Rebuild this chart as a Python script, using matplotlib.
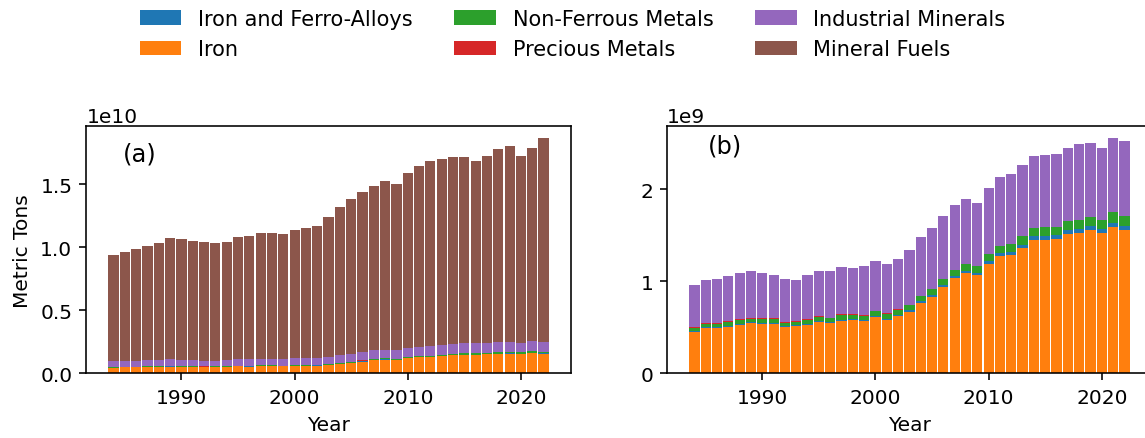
import numpy as np
import matplotlib
matplotlib.use('Agg')
import matplotlib.pyplot as plt

# 연도
years = np.arange(1984, 2023)

# 단위: 1e9 metric tons
iron = [0.454, 0.497, 0.497, 0.508, 0.530, 0.551, 0.541, 0.541, 0.508, 0.519,
        0.530, 0.562, 0.551, 0.573, 0.584, 0.573, 0.616, 0.584, 0.627, 0.670,
        0.768, 0.832, 0.941, 1.038, 1.092, 1.070, 1.189, 1.276, 1.286, 1.362,
        1.449, 1.449, 1.459, 1.514, 1.524, 1.557, 1.524, 1.589, 1.557]
ferro_alloys = [0.005, 0.010, 0.010, 0.006, 0.006, 0.008, 0.008, 0.008, 0.006, 0.006,
                0.007, 0.010, 0.010, 0.012, 0.008, 0.008, 0.012, 0.012, 0.012, 0.018,
                0.018, 0.020, 0.022, 0.025, 0.020, 0.025, 0.032, 0.033, 0.035, 0.035,
                0.040, 0.042, 0.042, 0.040, 0.043, 0.045, 0.045, 0.050, 0.045]
non_ferrous = [0.038, 0.034, 0.034, 0.048, 0.048, 0.036, 0.046, 0.046, 0.037, 0.037,
               0.047, 0.044, 0.044, 0.053, 0.046, 0.046, 0.053, 0.053, 0.053, 0.058,
               0.057, 0.067, 0.064, 0.061, 0.077, 0.073, 0.076, 0.075, 0.084, 0.095,
               0.089, 0.098, 0.088, 0.100, 0.098, 0.095, 0.096, 0.112, 0.106]
precious = [0.003] * 39
industrial = [0.462, 0.472, 0.483, 0.494, 0.505, 0.516, 0.494, 0.472, 0.473, 0.451,
              0.483, 0.495, 0.506, 0.516, 0.505, 0.538, 0.538, 0.537, 0.548, 0.592,
              0.635, 0.656, 0.678, 0.700, 0.700, 0.678, 0.711, 0.743, 0.754, 0.775,
              0.787, 0.786, 0.797, 0.797, 0.829, 0.808, 0.786, 0.808, 0.819]
fuels = [8.43, 8.61, 8.84, 9.05, 9.25, 9.63, 9.57, 9.43, 9.39, 9.32,
         9.35, 9.71, 9.78, 9.97, 9.98, 9.88, 10.15, 10.34, 10.44, 11.05,
         11.70, 12.24, 12.66, 13.01, 13.35, 13.15, 13.86, 14.37, 14.73, 14.78,
         14.84, 14.83, 14.43, 14.84, 15.34, 15.57, 14.84, 15.36, 16.18]

# 아래에서부터 쌓는 순서
layers = [
    ('Iron', iron, 'tab:orange'),
    ('Iron and Ferro-Alloys', ferro_alloys, 'tab:blue'),
    ('Non-Ferrous Metals', non_ferrous, 'tab:green'),
    ('Precious Metals', precious, 'tab:red'),
    ('Industrial Minerals', industrial, 'tab:purple'),
    ('Mineral Fuels', fuels, 'tab:brown'),
]

# 원본은 고해상도로 그려서 축소된 것 같음 -> 크기 1.45배
s = 1.45
plt.rcParams.update({
    'font.size': 10 * s,
    'axes.linewidth': 0.8 * s,
    'axes.labelpad': 4.0 * s,
    'xtick.major.size': 3.5 * s,
    'ytick.major.size': 3.5 * s,
    'xtick.major.width': 0.8 * s,
    'ytick.major.width': 0.8 * s,
    'xtick.major.pad': 3.5 * s,
    'ytick.major.pad': 3.5 * s,
})

fig = plt.figure(figsize=(11.45, 4.39), dpi=100)
ax1 = fig.add_axes([0.0755, 0.147, 0.4229, 0.564])
ax2 = fig.add_axes([0.5828, 0.147, 0.4229, 0.564])

handles = {}
for ax, names in [(ax1, [l[0] for l in layers]),
                  (ax2, [l[0] for l in layers if l[0] != 'Mineral Fuels'])]:
    bottom = np.zeros(len(years))
    for name, vals, color in layers:
        if name not in names:
            continue
        v = np.array(vals) * 1e9
        b = ax.bar(years, v, width=0.9, bottom=bottom, color=color, label=name)
        handles[name] = b
        bottom += v
    ax.set_xlabel('Year')

ax1.set_ylabel('Metric Tons')
ax1.text(0.11, 0.89, '(a)', transform=ax1.transAxes, fontsize=12 * s, ha='center', va='center')
ax2.text(0.12, 0.92, '(b)', transform=ax2.transAxes, fontsize=12 * s, ha='center', va='center')
ax2.set_yticks([0, 1e9, 2e9])

order = ['Iron and Ferro-Alloys', 'Iron', 'Non-Ferrous Metals', 'Precious Metals',
         'Industrial Minerals', 'Mineral Fuels']
fig.legend([handles[n] for n in order], order, loc='upper center',
           bbox_to_anchor=(0.5, 1.02), ncol=3, frameon=False, fontsize=15)

fig.savefig('out.png', dpi=100)
